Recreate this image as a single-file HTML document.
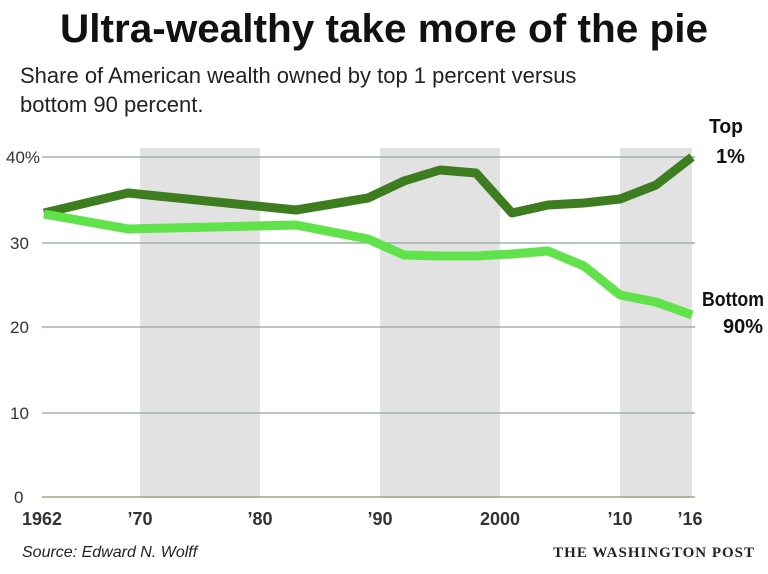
<!DOCTYPE html>
<html><head><meta charset="utf-8"><style>
body{margin:0;width:768px;height:569px;background:#fff;overflow:hidden;font-family:"Liberation Sans",sans-serif}
</style></head><body>
<svg width="768" height="569" xmlns="http://www.w3.org/2000/svg">
<text x="384" y="42" text-anchor="middle" font-family="Liberation Sans Narrow, Liberation Sans, sans-serif" font-weight="bold" font-size="40" fill="#111" textLength="648" lengthAdjust="spacingAndGlyphs">Ultra-wealthy take more of the pie</text>
<text x="20" y="83" font-size="22" fill="#222">Share of American wealth owned by top 1 percent versus</text>
<text x="20" y="112" font-size="22" fill="#222">bottom 90 percent.</text>
<rect x="140" y="148" width="120" height="350" fill="#e2e2e2"/>
<rect x="380" y="148" width="120" height="350" fill="#e2e2e2"/>
<rect x="620" y="148" width="72" height="350" fill="#e2e2e2"/>
<g stroke="#8fa59a" stroke-width="1.2">
<line x1="42" y1="157" x2="695" y2="157"/>
<line x1="42" y1="243" x2="695" y2="243"/>
<line x1="42" y1="327" x2="695" y2="327"/>
<line x1="42" y1="413" x2="695" y2="413"/>
</g>
<line x1="42" y1="497" x2="695" y2="497" stroke="#a5a57a" stroke-width="1.5"/>
<g font-size="17" fill="#333">
<text x="6" y="163">40%</text><text x="10" y="249">30</text><text x="10" y="333">20</text><text x="10" y="419">10</text><text x="14" y="503">0</text>
</g>
<g font-size="18" font-weight="bold" fill="#333" text-anchor="middle">
<text x="42" y="525">1962</text><text x="140" y="525">’70</text><text x="260" y="525">’80</text><text x="380" y="525">’90</text><text x="500" y="525">2000</text><text x="620" y="525">’10</text><text x="690" y="525">’16</text>
</g>
<polyline fill="none" stroke="#3d7d1f" stroke-width="9" stroke-linejoin="round" points="44,213 128,193 296,210 368,198 404,181 440,170 476,173 512,213 548,205 584,203 620,199 656,185 692,157"/>
<polyline fill="none" stroke="#5fe24a" stroke-width="9" stroke-linejoin="round" points="44,214 128,229 296,225 368,239 404,255 440,256 476,256 512,254 548,251 584,266 620,295 656,302 692,315"/>
<text x="709" y="133" font-size="20" font-weight="bold" fill="#111" textLength="34" lengthAdjust="spacingAndGlyphs">Top</text>
<text x="716" y="163" font-size="20" font-weight="bold" fill="#111">1%</text>
<text x="702" y="306" font-size="20" font-weight="bold" fill="#111" textLength="62" lengthAdjust="spacingAndGlyphs">Bottom</text>
<text x="723" y="333" font-size="20" font-weight="bold" fill="#111" textLength="40" lengthAdjust="spacingAndGlyphs">90%</text>
<text x="22" y="557" font-size="16" font-style="italic" fill="#222">Source: Edward N. Wolff</text>
<text x="755" y="557" text-anchor="end" font-family="Liberation Serif, serif" font-weight="bold" font-size="15" fill="#222" letter-spacing="1">THE WASHINGTON POST</text>
</svg>
</body></html>
